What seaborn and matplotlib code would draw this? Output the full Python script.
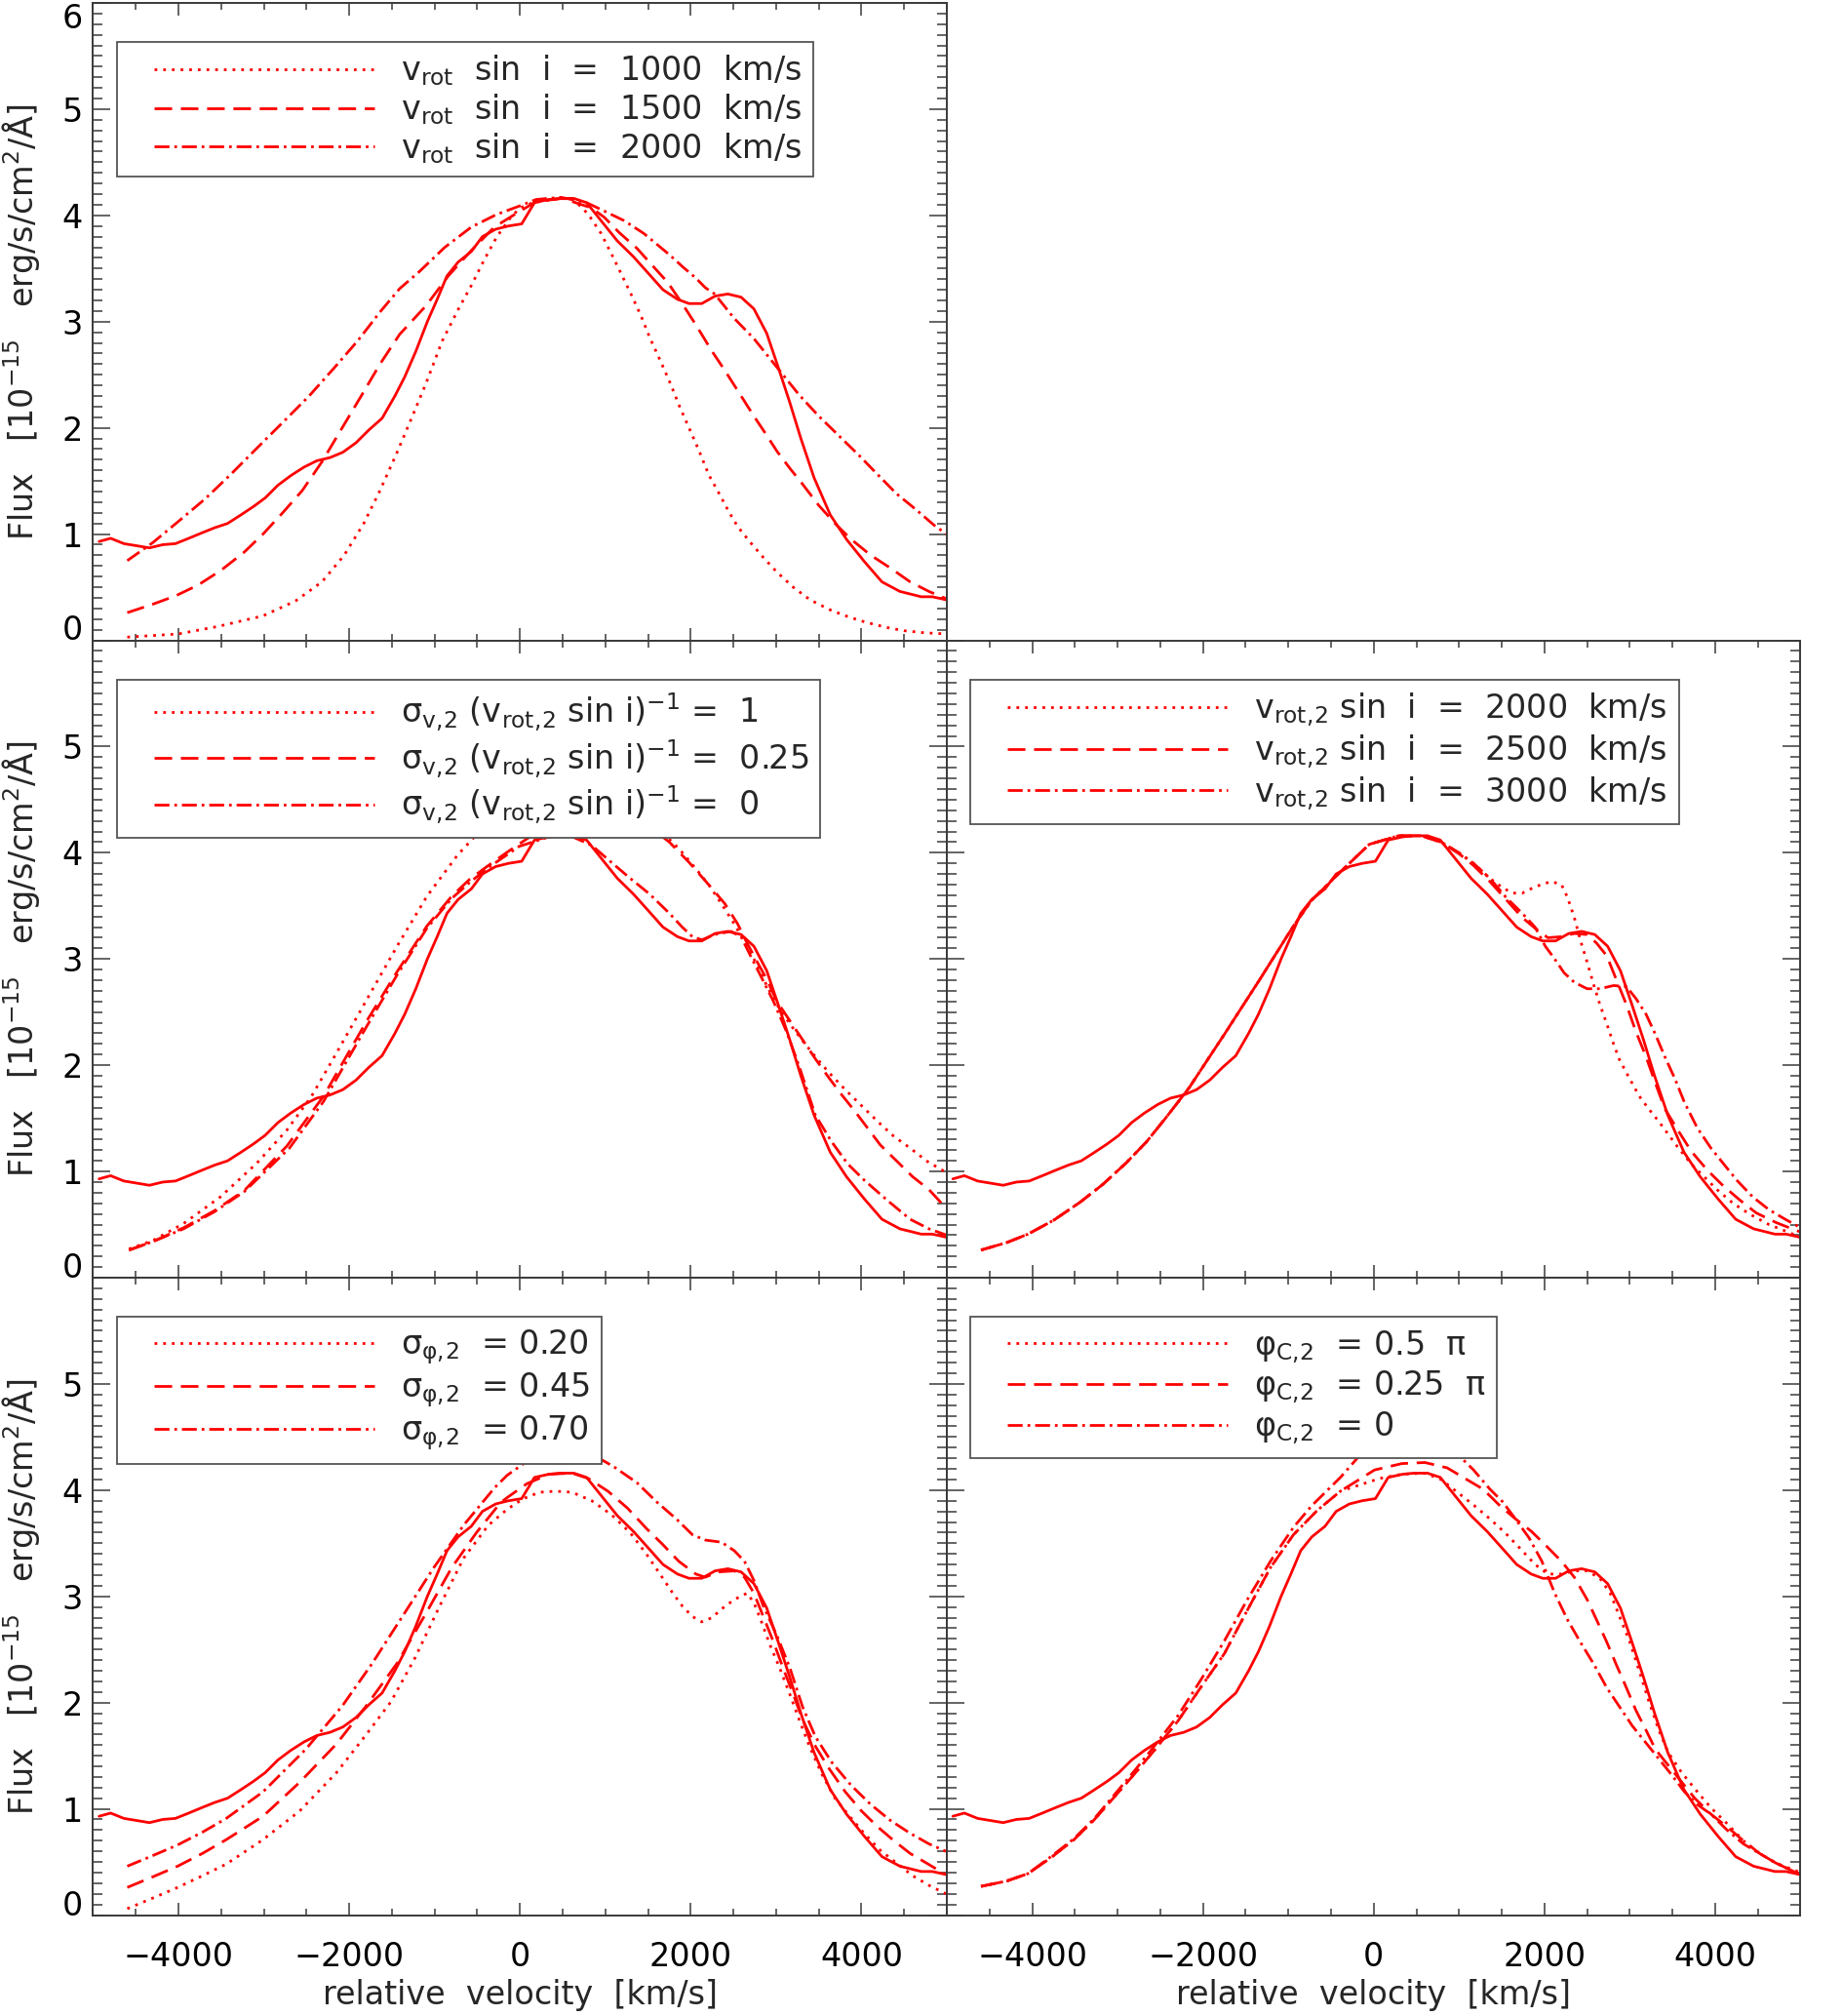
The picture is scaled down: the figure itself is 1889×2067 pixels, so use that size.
import numpy as np
import pandas as pd
import seaborn as sns
import matplotlib
matplotlib.use("Agg")
import matplotlib.pyplot as plt
from matplotlib.lines import Line2D
from matplotlib.legend_handler import HandlerLine2D
from matplotlib.ticker import MultipleLocator

# ---------------- observed spectrum (solid line, same in every panel) ----------------
v_obs = [-4930, -4795, -4640, -4490, -4340, -4185, -4035, -3880, -3730, -3575, -3425, -3270, -3120,
         -2985, -2835, -2685, -2530, -2380, -2225, -2075, -1920, -1770, -1615, -1465, -1350, -1220,
         -1085, -970, -855, -725, -570, -440, -285, -135, 20, 170, 340, 475, 630, 780, 950, 1140,
         1330, 1520, 1675, 1845, 1980, 2130, 2285, 2435, 2590, 2740, 2890, 3025, 3160, 3290, 3445,
         3635, 3825, 4035, 4240, 4450, 4700, 4830, 5000]
f_obs = [0.93, 0.96, 0.91, 0.89, 0.87, 0.90, 0.91, 0.96, 1.01, 1.06, 1.10, 1.18, 1.26, 1.34, 1.46,
         1.55, 1.63, 1.69, 1.72, 1.77, 1.86, 1.98, 2.09, 2.30, 2.48, 2.72, 3.00, 3.21, 3.43, 3.56,
         3.66, 3.80, 3.87, 3.90, 3.92, 4.12, 4.15, 4.16, 4.16, 4.12, 3.95, 3.76, 3.61, 3.44, 3.30,
         3.21, 3.17, 3.17, 3.24, 3.26, 3.23, 3.12, 2.89, 2.57, 2.24, 1.90, 1.53, 1.18, 0.95, 0.74,
         0.55, 0.46, 0.41, 0.41, 0.38]

# ---------------- panel A : v_rot sin i ----------------
a_dot_v = [-4600, -4000, -3540, -3010, -2630, -2320, -2060, -1830, -1640, -1450, -1260, -1100, -910,
           -720, -570, -420, -270, -110, 0, 150, 480, 630, 800, 950, 1070, 1180, 1300, 1420, 1520,
           1640, 1760, 1870, 1980, 2100, 2210, 2320, 2440, 2550, 2700, 2850, 3000, 3200, 3400, 3650,
           3850, 4050, 4300, 4500, 4750, 5000]
a_dot_f = [0.03, 0.06, 0.13, 0.23, 0.37, 0.55, 0.80, 1.10, 1.41, 1.75, 2.11, 2.42, 2.82, 3.12, 3.34,
           3.58, 3.80, 3.98, 4.07, 4.12, 4.16, 4.15, 4.01, 3.83, 3.64, 3.46, 3.26, 3.05, 2.85, 2.64,
           2.42, 2.20, 2.00, 1.78, 1.56, 1.40, 1.22, 1.07, 0.92, 0.78, 0.65, 0.50, 0.38, 0.28, 0.22,
           0.17, 0.12, 0.09, 0.07, 0.06]
a_dash_v = [-4600, -4300, -4030, -3770, -3500, -3230, -3010, -2780, -2550, -2320, -2090, -1860, -1640,
            -1410, -1100, -840, -570, -300, 0, 190, 500, 840, 990, 1160, 1370, 1560, 1730, 1900, 2060,
            2250, 2400, 2590, 2740, 2890, 3010, 3160, 3310, 3500, 3690, 3880, 4110, 4340, 4570, 4790,
            5000]
a_dash_f = [0.26, 0.34, 0.42, 0.52, 0.66, 0.83, 1.00, 1.20, 1.41, 1.68, 1.99, 2.30, 2.60, 2.88, 3.15,
            3.43, 3.67, 3.89, 4.04, 4.13, 4.16, 4.07, 3.98, 3.84, 3.69, 3.52, 3.37, 3.17, 2.97, 2.72,
            2.54, 2.30, 2.11, 1.93, 1.78, 1.62, 1.47, 1.27, 1.10, 0.95, 0.80, 0.68, 0.55, 0.46, 0.39]
a_dd_v = [-4600, -4300, -4000, -3690, -3390, -3080, -2780, -2470, -2170, -1900, -1640, -1410, -1180,
          -880, -570, -270, 0, 190, 480, 780, 990, 1220, 1450, 1600, 1750, 1900, 2060, 2170, 2280,
          2510, 2740, 2890, 3030, 3270, 3500, 3730, 3960, 4190, 4410, 4640, 4870, 5000]
a_dd_f = [0.75, 0.92, 1.12, 1.33, 1.56, 1.81, 2.05, 2.30, 2.57, 2.82, 3.09, 3.31, 3.47, 3.70, 3.89,
          4.01, 4.09, 4.15, 4.17, 4.12, 4.04, 3.95, 3.83, 3.73, 3.63, 3.52, 3.41, 3.32, 3.26, 3.03,
          2.84, 2.69, 2.55, 2.31, 2.11, 1.93, 1.75, 1.56, 1.38, 1.23, 1.07, 1.00]

# ---------------- panel B : sigma_v,2 (v_rot,2 sin i)^-1 ----------------
b_dot_v = [-4580, -4300, -3940, -3510, -3080, -2730, -2440, -2160, -1800, -1440, -1090, -730, -370,
           -200, 200, 600, 1000, 1300, 1480, 1670, 1860, 2060, 2210, 2360, 2510, 2660, 2780, 2890,
           3010, 3160, 3310, 3460, 3620, 3810, 4000, 4190, 4380, 4570, 4760, 4950, 5100]
b_dot_f = [0.27, 0.35, 0.51, 0.76, 1.08, 1.39, 1.71, 2.10, 2.61, 3.12, 3.59, 3.98, 4.29, 4.42, 4.62,
           4.68, 4.58, 4.40, 4.31, 4.19, 4.04, 3.85, 3.70, 3.52, 3.33, 3.12, 2.94, 2.75, 2.57, 2.39,
           2.23, 2.08, 1.93, 1.77, 1.62, 1.47, 1.33, 1.22, 1.10, 1.01, 0.95]
b_dash_v = [-4580, -4300, -3940, -3580, -3230, -2730, -2300, -1800, -1440, -1090, -800, -590, -370,
            -160, 60, 270, 410, 700, 1000, 1370, 1560, 1750, 1980, 2210, 2400, 2550, 2660, 2780, 2890,
            3010, 3160, 3310, 3460, 3620, 3770, 3920, 4070, 4220, 4410, 4600, 4790, 4950, 5050]
b_dash_f = [0.26, 0.34, 0.47, 0.63, 0.82, 1.24, 1.71, 2.41, 2.88, 3.31, 3.59, 3.75, 3.88, 4.00, 4.12,
            4.23, 4.33, 4.40, 4.38, 4.31, 4.22, 4.10, 3.91, 3.70, 3.52, 3.33, 3.15, 2.97, 2.81, 2.60,
            2.42, 2.24, 2.06, 1.88, 1.72, 1.57, 1.41, 1.25, 1.10, 0.95, 0.83, 0.69, 0.64]
b_dd_v = [-4580, -4300, -3940, -3580, -3230, -2700, -2300, -1800, -1440, -1090, -800, -590, -370, -10,
          340, 560, 840, 1070, 1290, 1520, 1750, 1900, 2020, 2130, 2280, 2470, 2590, 2700, 2820, 2970,
          3120, 3270, 3460, 3650, 3840, 4030, 4300, 4570, 4790, 5000]
b_dd_f = [0.26, 0.34, 0.46, 0.62, 0.81, 1.22, 1.66, 2.36, 2.85, 3.29, 3.57, 3.72, 3.86, 4.06, 4.15,
          4.17, 4.07, 3.91, 3.76, 3.61, 3.43, 3.30, 3.21, 3.18, 3.23, 3.26, 3.21, 3.03, 2.84, 2.60,
          2.32, 1.99, 1.53, 1.28, 1.07, 0.92, 0.73, 0.55, 0.46, 0.40]

# ---------------- panel C : v_rot,2 sin i ----------------
c_left_v = [-4600, -4300, -4050, -3750, -3440, -3170, -2900, -2660, -2430, -2160, -1750, -1340, -940,
            -730, -390, -50, 290, 560]
c_left_f = [0.26, 0.33, 0.41, 0.54, 0.71, 0.88, 1.08, 1.28, 1.51, 1.79, 2.29, 2.80, 3.31, 3.55, 3.82,
            4.08, 4.16, 4.16]
c_dot_v = [790, 980, 1170, 1360, 1510, 1630, 1740, 1890, 2080, 2200, 2270, 2350, 2420, 2500, 2580,
           2650, 2730, 2810, 2880, 3000, 3110, 3220, 3340, 3450, 3570, 3720, 3870, 4020, 4210, 4400,
           4630, 4820, 5000]
c_dot_f = [4.10, 4.01, 3.90, 3.76, 3.67, 3.62, 3.62, 3.68, 3.73, 3.70, 3.58, 3.39, 3.18, 2.97, 2.75,
           2.57, 2.39, 2.20, 2.05, 1.87, 1.71, 1.59, 1.47, 1.35, 1.22, 1.07, 0.95, 0.83, 0.70, 0.60,
           0.50, 0.44, 0.38]
c_dash_v = [790, 1000, 1170, 1360, 1550, 1740, 1890, 2040, 2200, 2350, 2500, 2610, 2730, 2840, 2960,
            3070, 3190, 3300, 3410, 3570, 3720, 3910, 4100, 4290, 4480, 4710, 4900, 5000]
c_dash_f = [4.10, 3.99, 3.88, 3.73, 3.56, 3.39, 3.29, 3.20, 3.21, 3.24, 3.23, 3.15, 3.03, 2.81, 2.57,
            2.32, 2.08, 1.83, 1.59, 1.38, 1.19, 1.01, 0.86, 0.73, 0.61, 0.52, 0.46, 0.43]
c_dd_v = [790, 980, 1170, 1360, 1550, 1740, 1890, 2010, 2120, 2230, 2350, 2500, 2650, 2810, 2960, 3070,
          3190, 3300, 3410, 3530, 3640, 3790, 3950, 4100, 4250, 4440, 4630, 4820, 5000]
c_dd_f = [4.10, 4.01, 3.90, 3.76, 3.58, 3.43, 3.30, 3.12, 3.00, 2.87, 2.78, 2.72, 2.72, 2.75, 2.74,
          2.63, 2.48, 2.29, 2.08, 1.87, 1.65, 1.41, 1.22, 1.07, 0.92, 0.76, 0.64, 0.55, 0.47]

# ---------------- panel D : sigma_phi,2 ----------------
d_dot_v = [-4600, -4300, -4010, -3720, -3440, -3010, -2580, -2150, -1800, -1510, -1230, -940, -660,
           -370, -150, 40, 230, 420, 610, 840, 1070, 1290, 1480, 1640, 1790, 1900, 2020, 2130, 2250,
           2360, 2510, 2660, 2740, 2820, 2930, 3040, 3160, 3270, 3390, 3540, 3690, 3840, 4030, 4220,
           4410, 4600, 4790, 4990]
d_dot_f = [0.06, 0.16, 0.26, 0.37, 0.48, 0.71, 0.98, 1.34, 1.70, 2.01, 2.42, 2.91, 3.36, 3.67, 3.82,
           3.92, 3.98, 3.99, 3.98, 3.90, 3.77, 3.60, 3.40, 3.21, 3.03, 2.91, 2.81, 2.76, 2.80, 2.88,
           2.97, 3.03, 2.94, 2.78, 2.54, 2.33, 2.08, 1.84, 1.59, 1.32, 1.10, 0.95, 0.77, 0.61, 0.49,
           0.37, 0.28, 0.20]
d_dash_v = [-4600, -4300, -4010, -3720, -3440, -3010, -2580, -2150, -1800, -1440, -1080, -800, -510,
            -230, -150, 80, 340, 610, 800, 1030, 1260, 1480, 1670, 1860, 2060, 2170, 2320, 2510, 2630,
            2740, 2850, 2970, 3080, 3200, 3310, 3460, 3620, 3810, 4000, 4190, 4380, 4570, 4760, 4990]
d_dash_f = [0.26, 0.36, 0.46, 0.58, 0.71, 0.93, 1.25, 1.61, 1.97, 2.37, 2.87, 3.27, 3.60, 3.88, 3.93,
            4.06, 4.15, 4.16, 4.11, 3.99, 3.83, 3.64, 3.49, 3.33, 3.21, 3.18, 3.23, 3.24, 3.18, 3.03,
            2.81, 2.57, 2.33, 2.08, 1.84, 1.59, 1.38, 1.16, 0.98, 0.83, 0.70, 0.58, 0.49, 0.38]
d_dd_v = [-4600, -4300, -4010, -3720, -3440, -3010, -2510, -2080, -1730, -1370, -1010, -660, -300, -150,
          60, 200, 450, 840, 1100, 1370, 1600, 1830, 2020, 2170, 2360, 2510, 2630, 2740, 2850, 3010,
          3160, 3310, 3460, 3650, 3880, 4110, 4340, 4570, 4790, 4990]
d_dd_f = [0.46, 0.56, 0.66, 0.78, 0.91, 1.16, 1.56, 1.97, 2.37, 2.82, 3.27, 3.67, 4.02, 4.14, 4.26,
          4.34, 4.42, 4.34, 4.22, 4.07, 3.89, 3.73, 3.58, 3.53, 3.51, 3.43, 3.33, 3.15, 2.91, 2.63,
          2.33, 1.96, 1.68, 1.44, 1.22, 1.04, 0.89, 0.77, 0.67, 0.60]

# ---------------- panel E : phi_C,2 ----------------
e_left_v = [-4600, -4300, -4050, -3780, -3510, -3270, -3040, -2800, -2560, -2290, -2020, -1750, -1480,
            -1210, -940, -660, -390]
e_left_f = [0.27, 0.32, 0.39, 0.54, 0.71, 0.90, 1.11, 1.33, 1.56, 1.83, 2.15, 2.46, 2.87, 3.27, 3.58,
            3.81, 3.99]
e_dot_v = [-160, 70, 330, 600, 790, 980, 1170, 1360, 1550, 1740, 1890, 2040, 2200, 2350, 2500, 2650,
           2770, 2880, 3000, 3110, 3220, 3340, 3450, 3600, 3760, 3950, 4140, 4330, 4520, 4710, 5000]
e_dot_f = [4.05, 4.11, 4.15, 4.16, 4.10, 3.98, 3.86, 3.73, 3.59, 3.43, 3.30, 3.21, 3.21, 3.24, 3.24,
           3.17, 3.03, 2.81, 2.57, 2.30, 2.02, 1.74, 1.53, 1.35, 1.19, 1.01, 0.86, 0.70, 0.58, 0.49,
           0.40]
e_dash_v = [10, 330, 600, 860, 1090, 1280, 1470, 1660, 1850, 2040, 2200, 2350, 2500, 2610, 2730, 2840,
            2960, 3070, 3190, 3300, 3450, 3600, 3760, 3950, 4140, 4330, 4520, 4710, 5000]
e_dash_f = [4.19, 4.25, 4.26, 4.21, 4.10, 4.01, 3.86, 3.73, 3.61, 3.46, 3.33, 3.18, 2.97, 2.78, 2.57,
            2.36, 2.14, 1.93, 1.74, 1.56, 1.41, 1.26, 1.10, 0.95, 0.83, 0.70, 0.58, 0.49, 0.38]
e_dd_v = [-4600, -4300, -4050, -3780, -3510, -3270, -3040, -2800, -2560, -2290, -2020, -1750, -1480,
          -1210, -940, -730, -390, -160, 300, 700, 980, 1170, 1360, 1510, 1660, 1820, 1970, 2120, 2270,
          2420, 2580, 2730, 2880, 3030, 3190, 3340, 3490, 3640, 3790, 3950, 4140, 4330, 4520, 4710,
          5000]
e_dd_f = [0.27, 0.32, 0.39, 0.55, 0.72, 0.91, 1.13, 1.36, 1.60, 1.88, 2.22, 2.58, 2.97, 3.33, 3.65,
          3.85, 4.12, 4.33, 4.52, 4.50, 4.34, 4.19, 4.01, 3.89, 3.73, 3.55, 3.33, 3.03, 2.78, 2.57,
          2.36, 2.14, 1.96, 1.78, 1.62, 1.47, 1.32, 1.16, 1.04, 0.95, 0.80, 0.67, 0.58, 0.49, 0.38]

# ---------------- legend texts ----------------
labels_a = [r"$\mathregular{v_{rot}}$  sin  i  =  1000  km/s",
            r"$\mathregular{v_{rot}}$  sin  i  =  1500  km/s",
            r"$\mathregular{v_{rot}}$  sin  i  =  2000  km/s"]
labels_b = [r"$\mathregular{\sigma_{v,\!2}}$ ($\mathregular{v_{rot,\!2}}$ sin i)$^{\mathregular{-1}}$ =  1",
            r"$\mathregular{\sigma_{v,\!2}}$ ($\mathregular{v_{rot,\!2}}$ sin i)$^{\mathregular{-1}}$ =  0.25",
            r"$\mathregular{\sigma_{v,\!2}}$ ($\mathregular{v_{rot,\!2}}$ sin i)$^{\mathregular{-1}}$ =  0"]
labels_c = [r"$\mathregular{v_{rot,\!2}}$ sin  i  =  2000  km/s",
            r"$\mathregular{v_{rot,\!2}}$ sin  i  =  2500  km/s",
            r"$\mathregular{v_{rot,\!2}}$ sin  i  =  3000  km/s"]
labels_d = [r"$\mathregular{\sigma_{\varphi,\!2}}$  = 0.20",
            r"$\mathregular{\sigma_{\varphi,\!2}}$  = 0.45",
            r"$\mathregular{\sigma_{\varphi,\!2}}$  = 0.70"]
labels_e = [r"$\mathregular{\varphi_{C,\!2}}$  = 0.5  $\mathregular{\pi}$",
            r"$\mathregular{\varphi_{C,\!2}}$  = 0.25  $\mathregular{\pi}$",
            r"$\mathregular{\varphi_{C,\!2}}$  = 0"]

xtick_vals = [-4000, -2000, 0, 2000, 4000]
ytick_vals = [0, 1, 2, 3, 4, 5, 6]
ylabel_txt = r"Flux   [10$^{\mathregular{-15}}$   erg/s/cm$^{\mathregular{2}}$/Å]"
xlabel_txt = "relative  velocity  [km/s]"

# ---------------- style ----------------
sns.set_theme(style="white")
plt.rcParams["font.family"] = ["DejaVu Sans"]
plt.rcParams["mathtext.fontset"] = "dejavusans"

RED = "#ff0000"
LW = 2.0
LS_DOT = (0, (1.0, 2.2))
LS_DASH = (0, (6.5, 3.2))
LS_DD = (0, (5.5, 1.8, 1.0, 1.8))
AXC = "#3a3a3a"
FS = 24
FS_PX = FS * 100 / 72.0

W_PX, H_PX = 1890, 2067
AX_W, AX_H = 875.5, 653.5

fig = plt.figure(figsize=(W_PX / 100, H_PX / 100), dpi=100)
fig.patch.set_facecolor("white")


def make_ax(x0, ytop):
    return fig.add_axes([x0 / W_PX, 1 - (ytop + AX_H) / H_PX, AX_W / W_PX, AX_H / H_PX])


def style_ax(ax, left_col, bottom_row, top_row):
    ax.set_facecolor("white")
    ax.set_xlim(-5000, 5000)
    ax.set_ylim(0, 6)
    ax.set_xticks(xtick_vals)
    ax.xaxis.set_minor_locator(MultipleLocator(500))
    ax.set_yticks(ytick_vals)
    ax.yaxis.set_minor_locator(MultipleLocator(0.1))
    for s in ax.spines.values():
        s.set_visible(True)
        s.set_color(AXC)
        s.set_linewidth(1.4)
    ax.tick_params(axis="both", which="both", direction="in", top=True, right=True, bottom=True,
                   left=True, color=AXC, width=1.1, labelcolor="black", labelsize=FS)
    ax.tick_params(axis="x", which="major", length=9.5, pad=19)
    ax.tick_params(axis="x", which="minor", length=4.7)
    ax.tick_params(axis="y", which="major", length=13, pad=7.6)
    ax.tick_params(axis="y", which="minor", length=7)
    ax.grid(False)
    if left_col:
        labs = [str(t) for t in ytick_vals]
        if not top_row:
            labs[-1] = ""
        ax.set_yticklabels(labs)
        tl = ax.get_yticklabels()
        tl[0].set_verticalalignment("baseline")
        if top_row:
            tl[-1].set_verticalalignment("top")
        ax.set_ylabel(ylabel_txt, fontsize=FS)
        ax.yaxis.set_label_coords((22 - 95.5) / AX_W, 0.5)
        ax.yaxis.label.set_verticalalignment("center")
    else:
        ax.tick_params(axis="y", labelleft=False)
        ax.set_ylabel("")
    if bottom_row:
        ax.set_xticklabels([f"{t}".replace("-", "\u2212") for t in xtick_vals])
        ax.set_xlabel(xlabel_txt, fontsize=FS)
        ax.xaxis.set_label_coords(0.5, (1963.5 - 2046) / AX_H)
        ax.xaxis.label.set_verticalalignment("center")
    else:
        ax.tick_params(axis="x", labelbottom=False)
        ax.set_xlabel("")


def draw_panel(ax, models, labels):
    handles = []
    for (vv, ff), ls, lab in zip(models, [LS_DOT, LS_DASH, LS_DD], labels):
        sns.lineplot(x=np.asarray(vv, float), y=np.asarray(ff, float), ax=ax, color=RED,
                     linewidth=LW, linestyle=ls, estimator=None, sort=False, label=lab)
        handles.append(ax.lines[-1])
    sns.lineplot(x=np.asarray(v_obs, float), y=np.asarray(f_obs, float), ax=ax, color=RED,
                 linewidth=LW, linestyle="-", estimator=None, sort=False, legend=False)
    for ln in ax.lines:
        ln.set_dash_capstyle("butt")
    bp = 0.35
    xpad = (37.5 - bp * FS_PX) / FS_PX
    leg = ax.legend(handles=handles, labels=labels, loc="upper left",
                    bbox_to_anchor=(24.5 / AX_W, 1 - 40 / AX_H), borderaxespad=0,
                    fontsize=FS, frameon=True, fancybox=False, framealpha=1,
                    edgecolor="#555555", facecolor="white",
                    handlelength=xpad + 226.5 / FS_PX, handletextpad=27 / FS_PX,
                    borderpad=bp, labelspacing=0.12, handleheight=0.7,
                    handler_map={Line2D: HandlerLine2D(xpad=xpad)})
    leg.get_frame().set_linewidth(1.3)
    leg.set_zorder(10)


axA = make_ax(95.5, 3)
axB = make_ax(95.5, 656.5)
axC = make_ax(971, 656.5)
axD = make_ax(95.5, 1310)
axE = make_ax(971, 1310)

draw_panel(axA, [(a_dot_v, a_dot_f), (a_dash_v, a_dash_f), (a_dd_v, a_dd_f)], labels_a)
draw_panel(axB, [(b_dot_v, b_dot_f), (b_dash_v, b_dash_f), (b_dd_v, b_dd_f)], labels_b)
draw_panel(axC, [(c_left_v + c_dot_v, c_left_f + c_dot_f),
                 (c_left_v + c_dash_v, c_left_f + c_dash_f),
                 (c_left_v + c_dd_v, c_left_f + c_dd_f)], labels_c)
draw_panel(axD, [(d_dot_v, d_dot_f), (d_dash_v, d_dash_f), (d_dd_v, d_dd_f)], labels_d)
draw_panel(axE, [(e_left_v + e_dot_v, e_left_f + e_dot_f),
                 (e_left_v + e_dash_v, e_left_f + e_dash_f),
                 (e_dd_v, e_dd_f)], labels_e)

style_ax(axA, True, False, True)
style_ax(axB, True, False, False)
style_ax(axC, False, False, False)
style_ax(axD, True, True, False)
style_ax(axE, False, True, False)

fig.savefig("out.png", dpi=100, facecolor="white")
